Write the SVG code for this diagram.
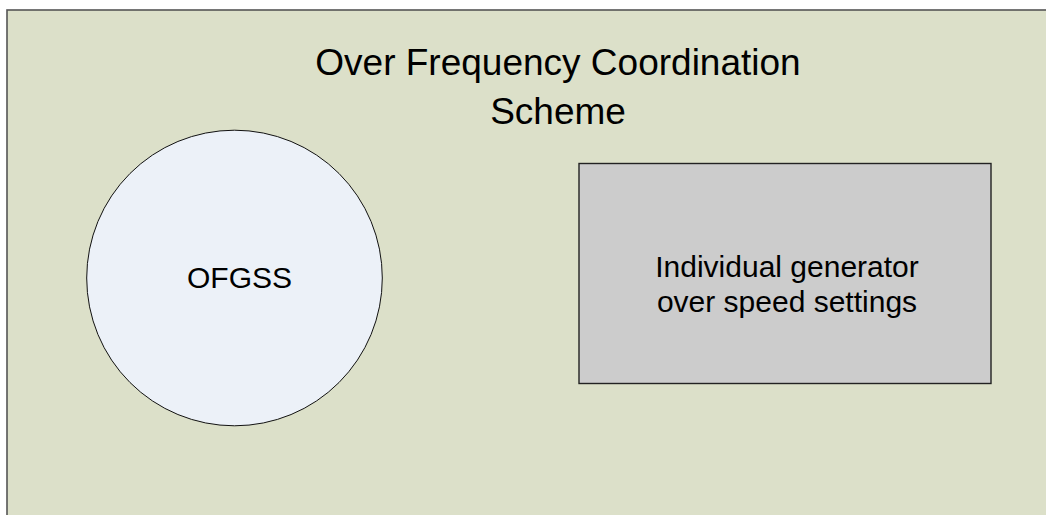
<svg xmlns="http://www.w3.org/2000/svg" width="1046" height="515" viewBox="0 0 1046 515">
<style>
text{font-family:"Liberation Sans",Arial,sans-serif;fill:#000;text-anchor:middle}
.t{font-size:37px}
.l{font-size:30px}
</style>
<rect width="1046" height="515" fill="#fff"/>
<g id="frame">
<rect x="7" y="10" width="1060" height="530" fill="#DCE0C9" stroke="#555" stroke-width="1.6"/>
<text class="t" x="558" y="75">Over Frequency Coordination</text>
<text class="t" x="558" y="124">Scheme</text>
</g>
<g id="ofgss">
<circle cx="234.5" cy="278" r="147.8" fill="#ECF1F8" stroke="#111" stroke-width="1"/>
<text class="l" x="239.5" y="288">OFGSS</text>
</g>
<g id="settings">
<rect x="579" y="163.5" width="412" height="220" fill="#CCCCCC" stroke="#222" stroke-width="1.4"/>
<text class="l" x="787" y="277">Individual generator</text>
<text class="l" x="787" y="312">over speed settings</text>
</g>
<g id="connectors"/>
</svg>
